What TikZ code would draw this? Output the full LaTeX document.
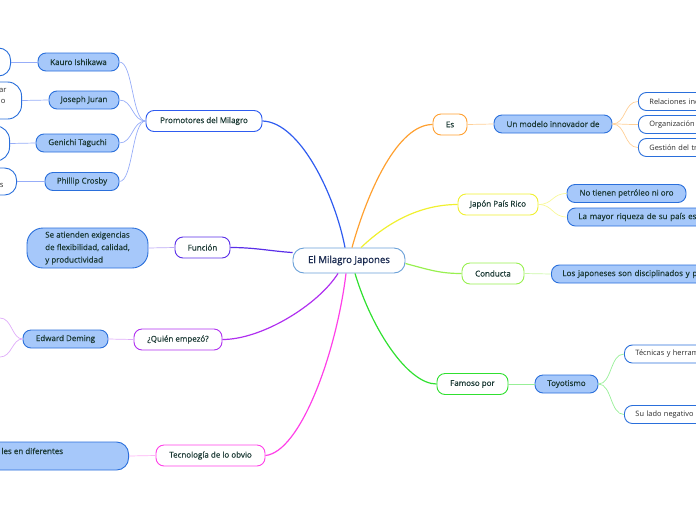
\documentclass[tikz,border=0pt]{standalone}
\usepackage{fontspec}
\setmainfont{Open Sans}
\newfontfamily\semib[FakeBold=0.6]{Open Sans}
\newfontfamily\centf[FakeBold=1.0]{Open Sans}
\definecolor{txt}{HTML}{1C3A35}
\definecolor{gtxt}{HTML}{2A2A2A}
\definecolor{ntxt}{HTML}{1A2A50}
\definecolor{lbf}{HTML}{A6C8FA}
\definecolor{bb}{HTML}{2A6FDB}
\definecolor{cen}{HTML}{6AA0D8}
\definecolor{cPro}{HTML}{2F5CF0}
\definecolor{cFun}{HTML}{5A2EE8}
\definecolor{cQui}{HTML}{B030F0}
\definecolor{cTec}{HTML}{FF40E8}
\definecolor{cEs}{HTML}{FFA030}
\definecolor{cJap}{HTML}{F0F030}
\definecolor{cCon}{HTML}{98F050}
\definecolor{cFam}{HTML}{30E030}
\begin{document}
\begin{tikzpicture}[x=1pt,y=-1pt,
 base/.style={rounded corners=8pt, line width=0.9pt, inner sep=0pt, font=\semib\fontsize{8}{12.5}\selectfont, text=txt},
 l1/.style={base, draw, fill=white, minimum height=21pt},
 lb/.style={base, draw=bb, fill=lbf, minimum height=18pt},
 wl/.style={base, draw=bb, fill=white, minimum height=18pt, text=gtxt, font=\fontsize{7.4}{10}\selectfont},
 wr/.style={wl, anchor=west, text width=110pt, inner xsep=11pt, align=left},
 cut/.style={base, draw=bb, fill=white, anchor=east, minimum width=80pt, rounded corners=12pt},
 frag/.style={base, text=gtxt, inner sep=0pt, font=\fontsize{7.6}{10}\selectfont},
 conn/.style={line width=1.2pt},
 sub/.style={line width=0.7pt}]
\useasboundingbox (0,0) rectangle (696,520);
\clip (0,0) rectangle (696,520);

% central
\node[base, draw=cen, fill=white, minimum width=112pt, minimum height=25pt, rounded corners=11pt, text=ntxt, font=\centf\fontsize{9.6}{11}\selectfont] (cen) at (349,260.5) {El Milagro Japones};

% left branch: Promotores
\node[l1, draw=cPro, minimum width=116pt] (pro) at (204,121) {Promotores del Milagro};
\node[lb, minimum width=81pt] (kau) at (78.5,62) {Kauro Ishikawa};
\node[lb, minimum width=70pt] (jos) at (84,100) {Joseph Juran};
\node[lb, minimum width=83pt] (gen) at (77.5,143) {Genichi Taguchi};
\node[lb, minimum width=74pt] (phi) at (82,181.5) {Phillip Crosby};
\node[cut, minimum height=28pt] (k1) at (11,62) {};
\node[cut, minimum height=37pt, rounded corners=14pt] (j1) at (22,100.5) {};
\node[cut, minimum height=35pt, rounded corners=14pt] (g1) at (10,143.5) {};
\node[cut, minimum height=27pt] (p1) at (17,181.5) {};
\node[frag, anchor=east] (j1a) at (7,90) {ar};
\node[frag, anchor=east] (j1b) at (6,101) {o};
\node[frag, anchor=east] (p1a) at (4,185.5) {s};

% Funcion
\node[l1, draw=cFun, minimum width=55pt] (fun) at (202.5,247.5) {Función};
\node[lb, minimum width=121pt, minimum height=40pt, rounded corners=16pt, align=left] (se) at (87.5,248) {Se atienden exigencias\\de flexibilidad, calidad,\\y productividad};

% Quien
\node[l1, draw=cQui, minimum width=88pt] (qui) at (178,339.5) {¿Quién empezó?};
\node[lb, minimum width=85pt] (edw) at (65.5,339) {Edward Deming};
\coordinate (e1) at (0,318);
\coordinate (e2) at (0,357);

% Tecnologia
\node[l1, draw=cTec, minimum width=109pt] (tec) at (210.5,455.5) {Tecnología de lo obvio};
\node[lb, anchor=east, minimum width=200pt, minimum height=28pt, rounded corners=12pt] (tl) at (129,456) {};
\node[frag, anchor=west, text=txt, font=\semib\fontsize{8}{10}\selectfont] (tlt) at (1,451) {les en diferentes};

% right: Es
\node[l1, draw=cEs, minimum width=34pt] (es) at (450,124.5) {Es};
\node[lb, minimum width=118pt] (mod) at (553,124) {Un modelo innovador de};
\node[wr] (rel) at (638,101.5) {Relaciones ind};
\node[wr] (org) at (638,124.5) {Organización};
\node[wr] (ges) at (638,147.5) {Gestión del tr};

% Japon
\node[l1, draw=cJap, minimum width=80pt] (jap) at (498,204.5) {Japón País Rico};
\node[lb, minimum width=119pt] (not) at (626.5,193.5) {No tienen petróleo ni oro};
\node[lb, anchor=west, text width=140pt, inner xsep=11pt, align=left] (may) at (567,217) {La mayor riqueza de su país es};

% Conducta
\node[l1, draw=cCon, minimum width=62pt] (con) at (493,273.5) {Conducta};
\node[lb, anchor=west, text width=160pt, inner xsep=11pt, align=left] (los) at (551,274) {Los japoneses son disciplinados y p};

% Famoso
\node[l1, draw=cFam, minimum width=71pt] (fam) at (472.5,384) {Famoso por};
\node[lb, minimum width=63pt] (toy) at (566.5,384) {Toyotismo};
\node[wr] (tee) at (624,354) {Técnicas y herram};
\node[wr] (sul) at (624,414.5) {Su lado negativo};

% main connectors
\draw[conn, cPro] (pro.east) .. controls (300,122) and (335,195) .. ([xshift=-4pt]cen.north);
\draw[conn, cEs] ([xshift=3pt]cen.north) .. controls (368,190) and (398,124.5) .. (es.west);
\draw[conn, cJap] ([xshift=12pt]cen.north) .. controls (392,218) and (425,204.5) .. (jap.west);
\draw[conn, cCon] ([yshift=-3pt]cen.east) .. controls (430,270) and (440,273.5) .. (con.west);
\draw[conn, cFam] ([xshift=6pt]cen.south) .. controls (372,330) and (408,384) .. (fam.west);
\draw[conn, cTec] ([xshift=-3pt]cen.south) .. controls (336,355) and (300,452) .. (tec.east);
\draw[conn, cQui] ([xshift=-11pt]cen.south) .. controls (318,305) and (262,339.5) .. (qui.east);
\draw[conn, cFun] (fun.east) .. controls (255,247.5) and (270,251) .. ([yshift=-5pt]cen.north west);

% sub connectors
\foreach \n in {kau,jos,gen,phi}
  \draw[sub, cPro!50] (pro.west) .. controls (132,121) and (133,0|-\n.east) .. (\n.east);
\draw[sub, cPro!50] (kau.west) -- (k1.east);
\draw[sub, cPro!50] (jos.west) -- (j1.east);
\draw[sub, cPro!50] (gen.west) -- (g1.east);
\draw[sub, cPro!50] (phi.west) -- (p1.east);
\draw[sub, cFun!40] (fun.west) -- (se.east);
\draw[sub, cQui!40] (qui.west) -- (edw.east);
\draw[sub, cQui!40] (edw.west) .. controls (12,339) and (12,318) .. (e1);
\draw[sub, cQui!40] (edw.west) .. controls (12,339) and (12,357) .. (e2);
\draw[sub, cTec!40] (tec.west) -- (tl.east);
\draw[sub, cEs!50] (es.east) -- (mod.west);
\foreach \n in {rel,org,ges}
  \draw[sub, cEs!50] (mod.east) .. controls (626,124) and (624,0|-\n.west) .. (\n.west);
\foreach \n in {not,may}
  \draw[sub, cJap!50] (jap.east) .. controls (553,204.5) and (552,0|-\n.west) .. (\n.west);
\draw[sub, cCon!50] (con.east) -- (los.west);
\draw[sub, cFam!50] (fam.east) -- (toy.west);
\foreach \n in {tee,sul}
  \draw[sub, cFam!50] (toy.east) .. controls (612,384) and (610,0|-\n.west) .. (\n.west);
\end{tikzpicture}
\end{document}
